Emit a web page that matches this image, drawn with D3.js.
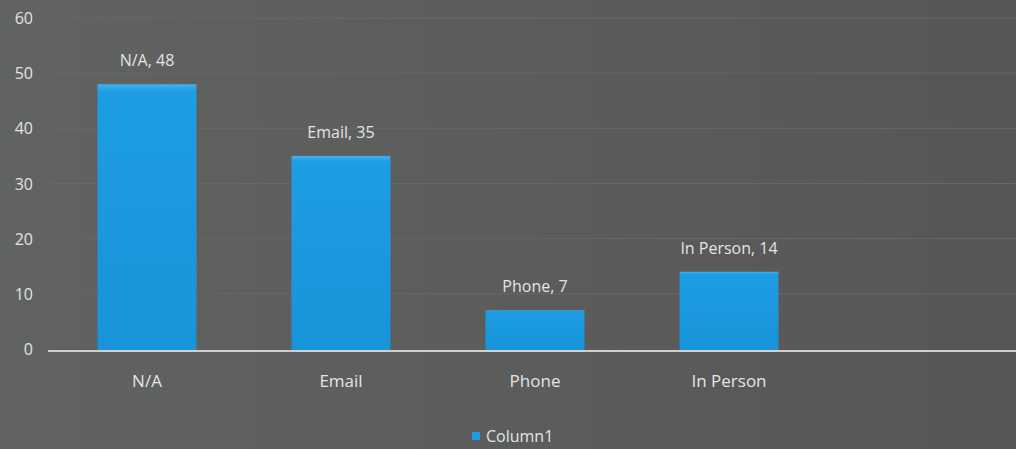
<!DOCTYPE html>
<html>
<head>
  <meta charset="utf-8">
  <title>Column1</title>
  <script src="https://d3js.org/d3.v7.min.js"></script>
  <style>
    body { margin: 0; background: #5c5d5d; }
    #chart text { font-family: "Open Sans", "DejaVu Sans", sans-serif; fill: #e4e4e4; }
  </style>
</head>
<body>
  <div id="chart"></div>
  <script>
    "use strict"

    // dados do grafico
    var categorias = ["N/A", "Email", "Phone", "In Person"];
    var valores = [48, 35, 7, 14];
    var ticksY = [0, 10, 20, 30, 40, 50, 60];
    var serie = "Column1";

    var largura = 1016, altura = 449;
    var margin = {top: 18, right: 0, bottom: 100, left: 50};

    var svg = d3.select("#chart").append("svg")
        .attr("width", largura)
        .attr("height", altura);

    // fundo cinza levemente mais escuro a direita
    var defs = svg.append("defs");
    var gradFundo = defs.append("linearGradient").attr("id", "fundo");
    gradFundo.append("stop").attr("offset", "0%").attr("stop-color", "#616262");
    gradFundo.append("stop").attr("offset", "100%").attr("stop-color", "#565656");

    var gradBarra = defs.append("linearGradient").attr("id", "barra")
        .attr("x1", 0).attr("x2", 0).attr("y1", 0).attr("y2", 1);
    gradBarra.append("stop").attr("offset", "0%").attr("stop-color", "#3fb1ee");
    gradBarra.append("stop").attr("offset", "3%").attr("stop-color", "#1d9de4");
    gradBarra.append("stop").attr("offset", "100%").attr("stop-color", "#1794da");

    svg.append("rect").attr("width", largura).attr("height", altura).attr("fill", "url(#fundo)");

    var y = d3.scaleLinear()
        .domain([0, 60])
        .range([349, margin.top]);

    var x = d3.scaleBand()
        .domain(categorias)
        .range([margin.left, 826])
        .paddingInner(0.49)
        .paddingOuter(0.245);

    // linhas de grade
    svg.append("g")
      .selectAll("line")
      .data(ticksY.slice(1))
      .enter().append("line")
        .attr("x1", margin.left)
        .attr("x2", largura)
        .attr("y1", d => y(d))
        .attr("y2", d => y(d))
        .attr("stroke", "#676868")
        .attr("stroke-width", 1);

    // eixo y (so os rotulos)
    var eixoY = svg.append("g")
        .attr("transform", "translate(" + (margin.left - 17) + ",0)")
        .call(d3.axisLeft(y).tickValues(ticksY).tickSize(0).tickPadding(0));
    eixoY.select(".domain").remove();
    eixoY.selectAll("text").style("font-size", "16px").attr("dy", "0.35em");

    // barras
    svg.append("g")
      .selectAll("rect")
      .data(valores)
      .enter().append("rect")
        .attr("x", (d, i) => x(categorias[i]))
        .attr("y", d => y(d))
        .attr("width", x.bandwidth())
        .attr("height", d => y(0) - y(d) + 2)
        .attr("fill", "url(#barra)");

    // rotulos de dados
    svg.append("g")
      .selectAll("text")
      .data(valores)
      .enter().append("text")
        .attr("x", (d, i) => x(categorias[i]) + x.bandwidth() / 2)
        .attr("y", d => y(d) - 18)
        .attr("text-anchor", "middle")
        .style("font-size", "16px")
        .text((d, i) => categorias[i] + ", " + d);

    // eixo x
    svg.append("line")
        .attr("x1", margin.left - 2)
        .attr("x2", largura)
        .attr("y1", y(0) + 2)
        .attr("y2", y(0) + 2)
        .attr("stroke", "#cfcfcf")
        .attr("stroke-width", 2);

    var eixoX = svg.append("g")
        .attr("transform", "translate(0," + (y(0) + 2) + ")")
        .call(d3.axisBottom(x).tickSize(0).tickPadding(24));
    eixoX.select(".domain").remove();
    eixoX.selectAll("text").style("font-size", "17px");

    // legenda
    var legenda = svg.append("g").attr("transform", "translate(472,436)");
    legenda.append("rect")
        .attr("x", 0).attr("y", -4)
        .attr("width", 8).attr("height", 8)
        .attr("fill", "#1d9de4");
    legenda.append("text")
        .attr("x", 14).attr("y", 0).attr("dy", "0.35em")
        .style("font-size", "16px")
        .text(serie);
  </script>
</body>
</html>
